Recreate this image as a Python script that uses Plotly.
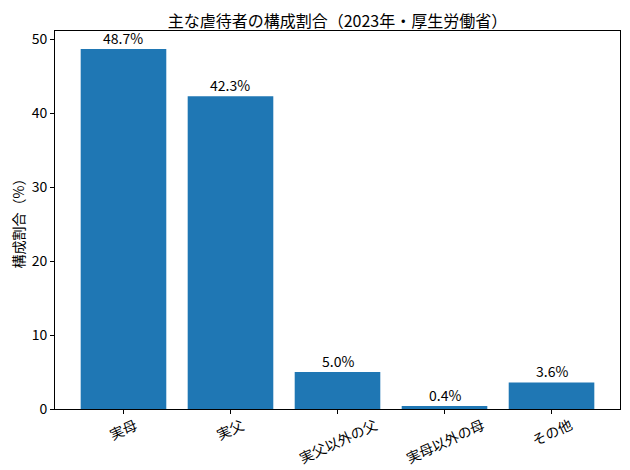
import math
import plotly.graph_objects as go

categories = ["実母", "実父", "実父以外の父", "実母以外の母", "その他"]
values = [48.7, 42.3, 5.0, 0.4, 3.6]
labels = [f"{v:.1f}%" for v in values]
yticks = [0, 10, 20, 30, 40, 50]

FONT = "Noto Sans CJK JP"
FS = 14
ANG = 25

fig = go.Figure(go.Bar(
    x=list(range(len(categories))),
    y=values,
    width=0.8,
    marker=dict(color="#1f77b4", line=dict(width=0)),
))

# value labels just above each bar
for i, (v, t) in enumerate(zip(values, labels)):
    fig.add_annotation(
        x=i, xref="x", y=v, yref="y",
        text=t, showarrow=False,
        xanchor="center", yanchor="bottom", yshift=-1,
        font=dict(family=FONT, size=FS, color="black"),
    )

# rotated category labels centred under their ticks (matplotlib style)
for i, c in enumerate(categories):
    w = len(c) * FS
    h_rot = w * math.sin(math.radians(ANG)) + FS * math.cos(math.radians(ANG))
    fig.add_annotation(
        x=i, xref="x", y=0, yref="paper",
        text=c, showarrow=False, textangle=-ANG,
        xanchor="center", yanchor="middle", yshift=-(8 + h_rot / 2),
        font=dict(family=FONT, size=FS, color="black"),
    )

fig.update_layout(
    width=622, height=462,
    margin=dict(l=47, r=10, t=23, b=61, autoexpand=False),
    paper_bgcolor="white", plot_bgcolor="white",
    font=dict(family=FONT, size=FS, color="black"),
    title=dict(text="主な虐待者の構成割合（2023年・厚生労働省）", xref="paper", x=0.5, xanchor="center",
               y=0.972, yanchor="middle", font=dict(size=16, family=FONT)),
    showlegend=False,
    bargap=0.2,
)
fig.update_xaxes(
    range=[-0.64, 4.64],
    tickmode="array", tickvals=list(range(len(categories))), ticktext=[""] * len(categories),
    ticks="outside", ticklen=4, tickcolor="black",
    showline=True, linecolor="black", linewidth=1, mirror=True,
    showgrid=False, zeroline=False, automargin=False,
)
fig.update_yaxes(
    range=[0, 51.135],
    tickmode="array", tickvals=yticks,
    ticks="outside", ticklen=4, tickcolor="black",
    showline=True, linecolor="black", linewidth=1, mirror=True,
    showgrid=False, zeroline=False, automargin=False,
    title=dict(text="構成割合（%）", standoff=6, font=dict(size=FS)),
)

fig.write_html("out.html")
